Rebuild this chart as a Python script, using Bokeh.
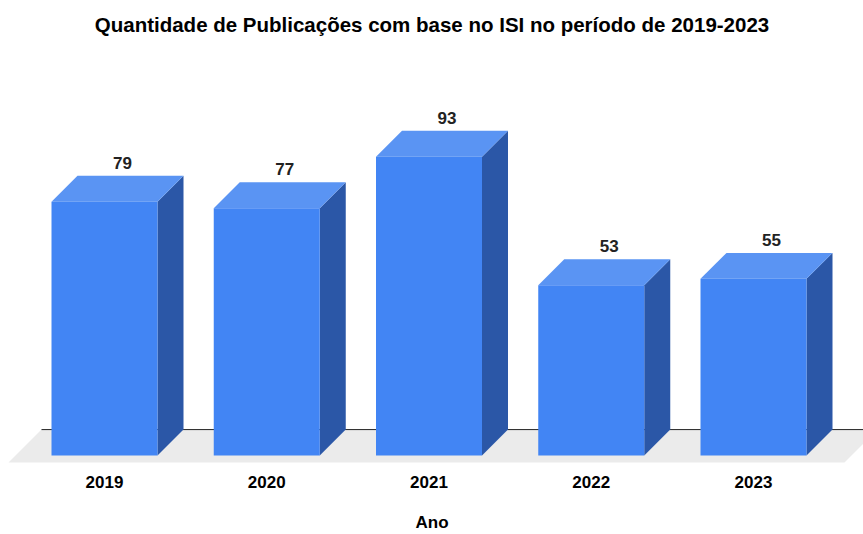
from bokeh.plotting import figure
from bokeh.models import ColumnDataSource, Range1d, FixedTicker
from bokeh.core.properties import value
from bokeh.embed import file_html
from bokeh.resources import INLINE

# ---- data ----
years = ["2019", "2020", "2021", "2022", "2023"]
counts = [79, 77, 93, 53, 55]
title_text = "Quantidade de Publicações com base no ISI no período de 2019-2023"
x_label = "Ano"

# ---- style / geometry constants ----
W, H = 863, 534
FONT = "Liberation Sans"
FRONT = "#4285F4"
TOP = "#5A94F3"
SIDE = "#2B57A7"
FLOOR = "#EBEBEB"

PX_PER_CAT = 162.25      # pixels between category centres
PX_PER_UNIT = 3.22       # pixels per value unit
BAR_W = 106 / PX_PER_CAT # bar width as fraction of category spacing
DEPTH = 26               # 3-D depth in pixels
FLOOR_FRONT = 7          # floor extends this many px in front of the bars
FLOOR_PAD_L = 43         # floor extends this many px left of first bar
FLOOR_PAD_R = 38         # floor extends this many px right of last bar

FIRST_CENTER_PX = 104    # pixel position of first category centre
BASE_PX = 456            # pixel row of value 0

dx = DEPTH / PX_PER_CAT
dy = DEPTH / PX_PER_UNIT
fx = FLOOR_FRONT / PX_PER_CAT
fy = FLOOR_FRONT / PX_PER_UNIT

MB_TOP, MB_BOT = 37, 70
x0 = -FIRST_CENTER_PX / PX_PER_CAT
x1 = x0 + W / PX_PER_CAT
y0 = -((H - MB_BOT) - BASE_PX) / PX_PER_UNIT
y1 = y0 + (H - MB_TOP - MB_BOT) / PX_PER_UNIT

p = figure(width=W, height=H, output_backend="svg", toolbar_location=None,
           x_range=Range1d(x0, x1), y_range=Range1d(y0, y1),
           y_axis_location=None, min_border_left=0, min_border_right=0,
           min_border_top=MB_TOP, min_border_bottom=MB_BOT)
p.outline_line_color = None
p.grid.visible = False
p.background_fill_color = "white"

# title
p.title.text = title_text
p.title.align = "center"
p.title.text_font = FONT
p.title.text_font_size = "20.5px"
p.title.text_font_style = "bold"
p.title.text_color = "#000000"
p.title.vertical_align = "top"
p.title.standoff = 0

# x axis with year labels
xs = list(range(len(years)))
ax = p.xaxis[0]
ax.ticker = FixedTicker(ticks=xs)
ax.major_label_overrides = {i: y for i, y in zip(xs, years)}
ax.major_label_text_font = FONT
ax.major_label_text_font_size = "17px"
ax.major_label_text_font_style = "bold"
ax.major_label_text_color = "#000000"
ax.major_label_standoff = 12
ax.axis_line_color = None
ax.major_tick_line_color = None
ax.minor_tick_line_color = None
ax.major_tick_out = 0
ax.major_tick_in = 0
ax.axis_label = x_label
ax.axis_label_text_font = FONT
ax.axis_label_text_font_size = "17px"
ax.axis_label_text_font_style = "bold"
ax.axis_label_text_color = "#000000"
ax.axis_label_standoff = 22

# floor (grey slab under the bars) and back edge line
hw = BAR_W / 2
left_front = xs[0] - hw - FLOOR_PAD_L / PX_PER_CAT
right_front = xs[-1] + hw + FLOOR_PAD_R / PX_PER_CAT
p.patch([left_front, left_front + dx + fx, right_front + dx + fx, right_front],
        [-fy, dy, dy, -fy], fill_color=FLOOR, line_color=None)
p.line([left_front + dx + fx, x1 + 1], [dy, dy],
       line_color="#222222", line_width=1)

# bars: side face, top face, front face
src = ColumnDataSource(dict(
    x=xs, top=counts, label=[str(c) for c in counts],
    ty=[c + dy for c in counts],
    top_xs=[[x - hw, x - hw + dx, x + hw + dx, x + hw] for x in xs],
    top_ys=[[c, c + dy, c + dy, c] for c in counts],
    side_xs=[[x + hw, x + hw + dx, x + hw + dx, x + hw] for x in xs],
    side_ys=[[0, dy, c + dy, c] for c in counts],
))
p.patches("side_xs", "side_ys", source=src, fill_color=SIDE, line_color=None)
p.patches("top_xs", "top_ys", source=src, fill_color=TOP, line_color=None)
p.vbar(x="x", top="top", bottom=0, width=BAR_W, source=src,
       fill_color=FRONT, line_color=None)

p.text(x="x", y="ty", text="label", source=src, x_offset=18, y_offset=-13,
       text_align="center", text_baseline="middle",
       text_font=value(FONT), text_font_size="17px", text_font_style="bold",
       text_color="#222222")

open("out.html", "w").write(file_html(p, INLINE))
